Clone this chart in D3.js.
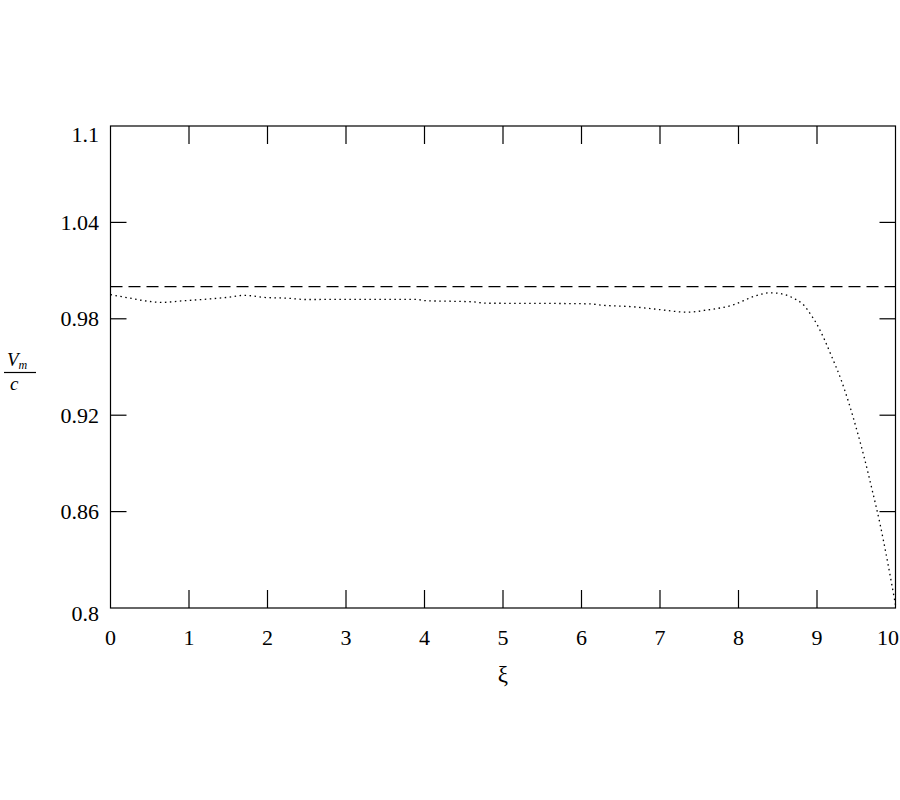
<!DOCTYPE html>
<html>
<head>
<meta charset="utf-8">
<script src="https://cdn.jsdelivr.net/npm/d3@7"></script>
<style>
  html, body { margin: 0; padding: 0; background: #fff; }
  svg { display: block; }
  text { font-family: "Liberation Serif", "DejaVu Serif", serif; fill: #000; }
</style>
</head>
<body>
<svg id="chart" width="900" height="800"></svg>
<script>
// ---- data ----
const xi = [0, 0.22, 0.4, 0.65, 0.9, 1.24, 1.5, 1.71, 1.96, 2.26, 2.5, 3.0, 3.5, 3.9, 4.0, 4.6, 4.8, 5.5, 6.1, 6.25, 6.65, 7.0, 7.35, 7.6, 7.93, 8.19, 8.4, 8.53, 8.7, 8.83, 8.91, 9.0, 9.1, 9.2, 9.3, 9.4, 9.5, 9.6, 9.7, 9.8, 9.9, 10.0];
const vmOverC = [0.9950, 0.9931, 0.9915, 0.9902, 0.9911, 0.9923, 0.9934, 0.9946, 0.9933, 0.9928, 0.9920, 0.9921, 0.9921, 0.9921, 0.9913, 0.9906, 0.9897, 0.9896, 0.9893, 0.9885, 0.9875, 0.9857, 0.9841, 0.9855, 0.9886, 0.9938, 0.9962, 0.9957, 0.9928, 0.9886, 0.9834, 0.9765, 0.9665, 0.9550, 0.9430, 0.9285, 0.9120, 0.8940, 0.8740, 0.8530, 0.8285, 0.8019];
const refXi = [0, 10];
const refValue = [1.0, 1.0];
const xTicks = [0, 1, 2, 3, 4, 5, 6, 7, 8, 9, 10];
const yTicks = [0.8, 0.86, 0.92, 0.98, 1.04, 1.1];
const yTickLabels = ["0.8", "0.86", "0.92", "0.98", "1.04", "1.1"];

(function () {
// ---- layout ----
const pLeft = 110.5, pRight = 895.5, pTop = 126, pBottom = 608;
const svg = d3.select("#chart");
const x = d3.scaleLinear().domain([0, 10]).range([pLeft, pRight]);
const y = d3.scaleLinear().domain([0.8, 1.1]).range([pBottom, pTop]);

// frame
svg.append("rect")
  .attr("x", pLeft).attr("y", pTop)
  .attr("width", pRight - pLeft).attr("height", pBottom - pTop)
  .attr("fill", "none").attr("stroke", "#000").attr("stroke-width", 1.2);

// ticks (inward on all sides)
const xTickLen = 18, yTickLen = 16;
const tg = svg.append("g").attr("stroke", "#000").attr("stroke-width", 1.2);
xTicks.slice(1, -1).forEach(t => {
  tg.append("line").attr("x1", x(t)).attr("x2", x(t)).attr("y1", pBottom).attr("y2", pBottom - xTickLen);
  tg.append("line").attr("x1", x(t)).attr("x2", x(t)).attr("y1", pTop).attr("y2", pTop + xTickLen);
});
yTicks.slice(1, -1).forEach(t => {
  tg.append("line").attr("x1", pLeft).attr("x2", pLeft + yTickLen).attr("y1", y(t)).attr("y2", y(t));
  tg.append("line").attr("x1", pRight).attr("x2", pRight - yTickLen).attr("y1", y(t)).attr("y2", y(t));
});

// x tick labels
xTicks.forEach(t => {
  const last = t === 10;
  svg.append("text")
    .attr("x", last ? 899 : x(t))
    .attr("y", 645)
    .attr("text-anchor", last ? "end" : "middle")
    .attr("font-size", 22)
    .text(String(t));
});

// y tick labels (centred on ticks; end labels nudged inward like the original)
yTicks.forEach((t, i) => {
  const nudge = t === 1.1 ? 8 : (t === 0.8 ? 5 : 0);
  svg.append("text")
    .attr("x", 99)
    .attr("y", y(t) + nudge + 7.5)
    .attr("text-anchor", "end")
    .attr("font-size", 22)
    .text(yTickLabels[i]);
});

// axis titles
svg.append("text")
  .attr("x", x(5)).attr("y", 682)
  .attr("text-anchor", "middle")
  .attr("font-size", 23)
  .text("ξ");

const yl = svg.append("g");
const vt = yl.append("text").attr("x", 7).attr("y", 366).attr("font-size", 19).attr("font-style", "italic");
vt.append("tspan").text("V");
vt.append("tspan").attr("font-size", 12).attr("dy", 3).text("m");
yl.append("line").attr("x1", 4).attr("x2", 36).attr("y1", 372.5).attr("y2", 372.5)
  .attr("stroke", "#000").attr("stroke-width", 1.2);
yl.append("text").attr("x", 10).attr("y", 390).attr("font-size", 19).attr("font-style", "italic").text("c");

// reference dashed line
const refData = refXi.map((d, i) => [d, refValue[i]]);
svg.append("path")
  .attr("d", d3.line().x(d => x(d[0])).y(d => y(d[1]))(refData))
  .attr("fill", "none").attr("stroke", "#000").attr("stroke-width", 1.2)
  .attr("stroke-dasharray", "12,6");

// dotted curve
const curveData = xi.map((d, i) => [d, vmOverC[i]]);
svg.append("path")
  .attr("d", d3.line().curve(d3.curveMonotoneX).x(d => x(d[0])).y(d => y(d[1]))(curveData))
  .attr("fill", "none").attr("stroke", "#000").attr("stroke-width", 1.3)
  .attr("stroke-dasharray", "1.5,3.5");
})();
</script>
</body>
</html>
